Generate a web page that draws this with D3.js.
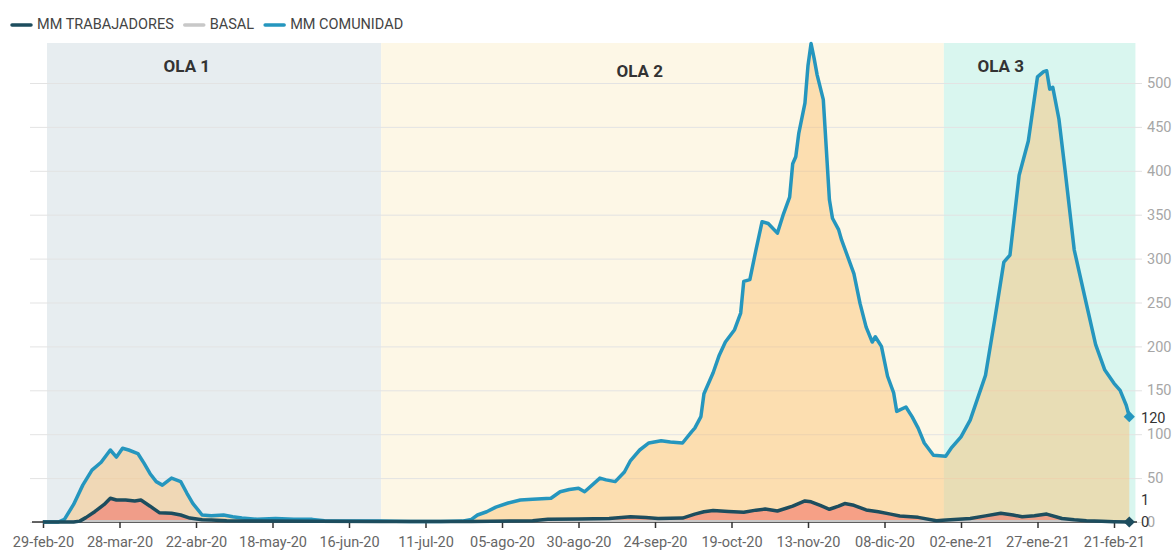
<!DOCTYPE html>
<html>
<head>
<meta charset="utf-8">
<script src="https://cdn.jsdelivr.net/npm/d3@7"></script>
<style>
  body { margin: 0; background: #fff; font-family: Roboto, "Noto Sans", sans-serif; }
  #chart svg { display: block; }
</style>
</head>
<body>
<div id="chart"></div>
<script>
// x-axis categories (every 25 days on the axis)
const tickDays = [0, 25, 50, 75, 100, 125, 150, 175, 200, 225, 250, 275, 300, 325, 350];
const tickLabels = ['29-feb-20', '28-mar-20', '22-abr-20', '18-may-20', '16-jun-20', '11-jul-20', '05-ago-20',
  '30-ago-20', '24-sep-20', '19-oct-20', '13-nov-20', '08-dic-20', '02-ene-21', '27-ene-21', '21-feb-21'];
const yTicks = [0, 50, 100, 150, 200, 250, 300, 350, 400, 450, 500];

// MM COMUNIDAD
const comDay = [0, 5, 7, 10, 13, 16, 19, 22, 24, 26, 28, 31, 33, 35, 37, 39, 42, 45, 47, 49, 52, 55, 59, 62, 65, 70,
  76, 82, 88, 92, 100, 110, 120, 130, 137, 140, 142, 145, 148, 152, 156, 160, 166, 169, 172, 175, 177, 182, 184, 187,
  190, 192, 195, 198, 202, 205, 209, 212, 213, 215, 216, 219, 221, 223, 226, 228, 229, 231, 233, 235, 237, 240, 242,
  244, 245, 246, 247, 249, 250, 251, 252, 253, 255, 256, 257, 258, 260, 261, 263, 265, 267, 269, 271, 272, 274, 276,
  278, 279, 282, 284, 286, 288, 291, 295, 297, 300, 303, 308, 311, 314, 316, 319, 322, 325, 327, 328, 329, 330, 332,
  334, 337, 341, 344, 347, 350, 352, 354, 355];
const comVal = [0, 0, 3, 20, 42, 59, 68, 82, 74, 84, 82, 78, 67, 55, 46, 42, 50, 46, 33, 21, 8, 7, 8, 6, 4.5, 3,
  4, 3, 3, 1.5, 1, 1, 0.5, 0.5, 1, 3, 8, 11.7, 17, 21.6, 25, 26, 27, 34.5, 37, 38.5, 34.5, 50, 48, 46,
  57, 70, 82, 90, 92.6, 91, 90, 103, 107, 120, 146, 170, 190, 205, 219, 238, 274, 276, 310, 342, 340, 329, 351,
  370, 408, 416, 443, 477, 520, 545, 528, 509, 481, 424, 367, 346, 333, 321, 302, 283, 249, 222, 205, 211, 200, 166,
  147, 126, 131, 120, 107, 90, 76, 75, 85, 97, 116, 167, 230, 296, 304, 395, 434, 507, 513, 514, 493, 495, 459,
  401, 310, 248, 202, 173, 158, 150, 133, 120];

// MM TRABAJADORES
const trabDay = [0, 10, 12, 14, 17, 20, 22, 24, 27, 30, 32, 35, 38, 42, 45, 48, 52, 55, 60, 70, 90, 110, 140, 160,
  165, 175, 185, 192, 197, 201, 209, 213, 216, 219, 224, 229, 233, 236, 240, 245, 249, 251, 254, 257, 260, 262, 265,
  269, 273, 277, 280, 286, 292, 294, 303, 308, 313, 317, 320, 324, 328, 333, 337, 341, 346, 350, 355];
const trabVal = [0, 0, 1, 5, 12, 20, 27, 25, 25, 24, 25, 18, 10.6, 10, 8, 4.5, 2.5, 2.3, 1.5, 1, 0.8, 0.5, 0.5, 1.5,
  3, 3.5, 4, 6, 5, 4, 4.5, 9, 11.7, 13, 12, 11, 13.5, 14.8, 12.5, 18, 24, 23, 19, 14.5, 18, 21, 19,
  13.7, 11.7, 9, 6.8, 5.3, 1.5, 2, 4, 7, 10, 8, 6, 7, 9, 4, 2.5, 1.5, 0.8, 0.4, 0];

// BASAL
const basalDay = [0, 355];
const basalVal = [1, 1];

// olas
const olaNames = ['OLA 1', 'OLA 2', 'OLA 3'];
const olaStart = [1.3, 110.5, 294.4];
const olaEnd = [110.5, 294.4, 357];
const olaLabelDay = [47, 195, 313];
const olaColors = ['#e7edf0', '#fdf7e6', '#d9f6ef'];

const legendNames = ['MM TRABAJADORES', 'BASAL', 'MM COMUNIDAD'];
const legendColors = ['#1d4d5e', '#c8c8c8', '#2596be'];

const width = 1173;
const height = 551;
const fs = '14.5px';

const x = d3.scaleLinear().domain([0, 355]).range([43, 43 + 355 * 3.06]);
const y = d3.scaleLinear().domain([0, 500]).range([522, 83]);

const svg = d3.select('#chart')
  .append('svg')
  .attr('width', width)
  .attr('height', height)
  .attr('viewBox', `0 0 ${width} ${height}`);

// bands
svg.append('g')
  .selectAll('rect')
  .data(olaNames)
  .join('rect')
  .attr('x', (d, i) => x(olaStart[i]))
  .attr('width', (d, i) => x(olaEnd[i]) - x(olaStart[i]))
  .attr('y', 43)
  .attr('height', y(0) - 43)
  .attr('fill', (d, i) => olaColors[i]);

// y axis + grid
const yAxis = svg.append('g')
  .attr('transform', 'translate(1142,0)')
  .call(d3.axisRight(y).tickValues(yTicks).tickSize(-(1142 - 30)).tickPadding(5));
yAxis.select('.domain').remove();
yAxis.selectAll('.tick line').attr('stroke', '#e3e3e3');
yAxis.selectAll('.tick text')
  .attr('fill', '#a6a6a6')
  .style('font-family', 'Roboto, sans-serif')
  .style('font-size', fs);

const comData = comDay.map((d, i) => ({ d, v: comVal[i] }));
const trabData = trabDay.map((d, i) => ({ d, v: trabVal[i] }));
const basalData = basalDay.map((d, i) => ({ d, v: basalVal[i] }));

const area = d3.area().x(p => x(p.d)).y0(y(0)).y1(p => y(p.v));
const line = d3.line().x(p => x(p.d)).y(p => y(p.v));

svg.append('path')
  .datum(comData)
  .attr('d', area)
  .attr('fill', 'rgba(251,191,110,0.45)');

svg.append('path')
  .datum(trabData)
  .attr('d', area)
  .attr('fill', 'rgba(240,110,100,0.55)');

// ola labels
svg.append('g')
  .selectAll('text')
  .data(olaNames)
  .join('text')
  .attr('x', (d, i) => x(olaLabelDay[i]))
  .attr('y', (d, i) => i === 1 ? 73 : 68)
  .attr('text-anchor', 'middle')
  .attr('dominant-baseline', 'middle')
  .attr('fill', '#333')
  .style('font-weight', 'bold')
  .style('font-size', '17px')
  .text(d => d);

// x axis
const xAxis = svg.append('g')
  .attr('transform', `translate(0,${y(0)})`)
  .call(d3.axisBottom(x).tickValues(tickDays).tickFormat((d, i) => tickLabels[i]).tickSize(6).tickPadding(9));
xAxis.select('.domain').remove();
xAxis.selectAll('.tick line').attr('stroke', '#333').attr('y1', -2).attr('stroke-width', 1.5);
xAxis.selectAll('.tick text')
  .attr('fill', '#666')
  .style('font-family', 'Roboto, sans-serif')
  .style('font-size', fs);
svg.append('line')
  .attr('x1', 32).attr('x2', 1137)
  .attr('y1', y(0)).attr('y2', y(0))
  .attr('stroke', '#333')
  .attr('stroke-width', 1.5);

svg.append('path')
  .datum(basalData)
  .attr('d', line)
  .attr('fill', 'none')
  .attr('stroke', '#c8c8c8')
  .attr('stroke-width', 2);

svg.append('path')
  .datum(comData)
  .attr('d', line)
  .attr('fill', 'none')
  .attr('stroke', '#2596be')
  .attr('stroke-width', 3.5)
  .attr('stroke-linejoin', 'round');

svg.append('path')
  .datum(trabData)
  .attr('d', line)
  .attr('fill', 'none')
  .attr('stroke', '#1d4d5e')
  .attr('stroke-width', 3.5)
  .attr('stroke-linejoin', 'round');

// end markers
const diamond = d3.symbol().type(d3.symbolDiamond2).size(80);
const ends = [
  { p: comData[comData.length - 1], c: '#2596be' },
  { p: trabData[trabData.length - 1], c: '#1d4d5e' }
];
ends.forEach(e => {
  svg.append('path')
    .attr('d', diamond())
    .attr('transform', `translate(${x(e.p.d)},${y(e.p.v)})`)
    .attr('fill', e.c);
});

// end value labels
const endLabels = [
  { v: comVal[comVal.length - 1], ty: y(comVal[comVal.length - 1]) + 3 },
  { v: basalVal[basalVal.length - 1], ty: y(0) - 21 },
  { v: trabVal[trabVal.length - 1], ty: y(0) + 1 }
];
svg.append('g')
  .selectAll('text')
  .data(endLabels)
  .join('text')
  .attr('x', 1141)
  .attr('y', d => d.ty)
  .attr('dominant-baseline', 'middle')
  .attr('fill', '#333')
  .style('font-size', fs)
  .text(d => d3.format('d')(d.v));

// legend
const legend = svg.append('g').attr('transform', 'translate(12,25)');
let lx = 0;
legendNames.forEach((name, i) => {
  legend.append('line')
    .attr('x1', lx).attr('x2', lx + 19)
    .attr('y1', 0).attr('y2', 0)
    .attr('stroke', legendColors[i])
    .attr('stroke-width', 3.5)
    .attr('stroke-linecap', 'round');
  const t = legend.append('text')
    .attr('x', lx + 25)
    .attr('y', 0)
    .attr('dominant-baseline', 'middle')
    .attr('fill', '#444')
    .style('font-size', fs)
    .text(name);
  lx += 25 + t.node().getComputedTextLength() + 11;
});
</script>
</body>
</html>
